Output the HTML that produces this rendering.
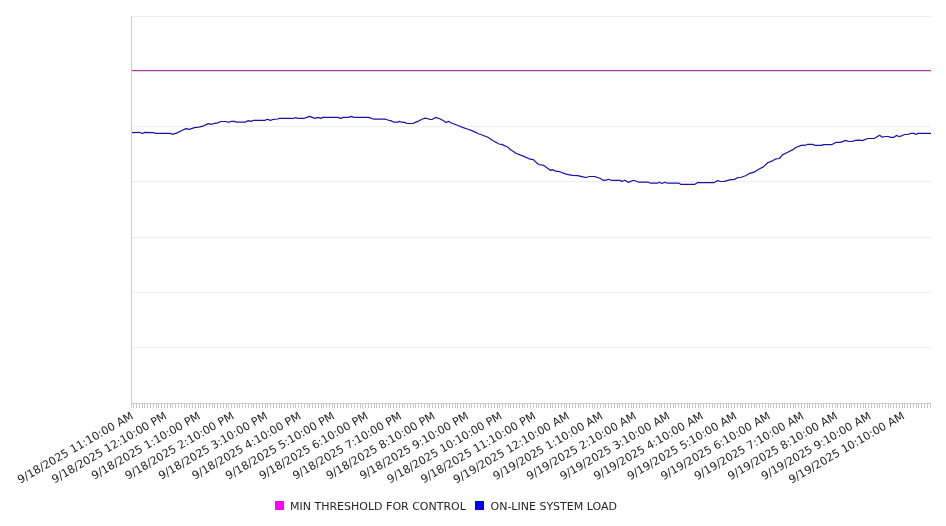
<!DOCTYPE html>
<html><head><meta charset="utf-8"><title>System Load Chart</title>
<style>
html,body{margin:0;padding:0;background:#fff;}
body{width:946px;height:526px;overflow:hidden;position:relative;}
svg{display:block;position:absolute;left:0;top:0;}
#txt{filter:grayscale(1);}
text{font-family:"DejaVu Sans","Liberation Sans",sans-serif;fill:#262626;}
</style></head>
<body>
<svg width="946" height="526" viewBox="0 0 946 526" shape-rendering="auto">
<rect width="946" height="526" fill="#fff"/>
<line x1="131" y1="16.5" x2="931" y2="16.5" stroke="#eeeeee" stroke-width="1"/>
<line x1="131" y1="71.5" x2="931" y2="71.5" stroke="#eeeeee" stroke-width="1"/>
<line x1="131" y1="126.5" x2="931" y2="126.5" stroke="#eeeeee" stroke-width="1"/>
<line x1="131" y1="181.5" x2="931" y2="181.5" stroke="#eeeeee" stroke-width="1"/>
<line x1="131" y1="237.5" x2="931" y2="237.5" stroke="#eeeeee" stroke-width="1"/>
<line x1="131" y1="292.5" x2="931" y2="292.5" stroke="#eeeeee" stroke-width="1"/>
<line x1="131" y1="347.5" x2="931" y2="347.5" stroke="#eeeeee" stroke-width="1"/>
<path d="M131.5 403 V408 M133.5 403 V408 M136.5 403 V408 M139.5 403 V408 M142.5 403 V408 M144.5 403 V408 M147.5 403 V408 M150.5 403 V408 M153.5 403 V408 M156.5 403 V408 M158.5 403 V408 M161.5 403 V408 M164.5 403 V408 M167.5 403 V408 M170.5 403 V408 M172.5 403 V408 M175.5 403 V408 M178.5 403 V408 M181.5 403 V408 M184.5 403 V408 M186.5 403 V408 M189.5 403 V408 M192.5 403 V408 M195.5 403 V408 M198.5 403 V408 M200.5 403 V408 M203.5 403 V408 M206.5 403 V408 M209.5 403 V408 M212.5 403 V408 M214.5 403 V408 M217.5 403 V408 M220.5 403 V408 M223.5 403 V408 M226.5 403 V408 M228.5 403 V408 M231.5 403 V408 M234.5 403 V408 M237.5 403 V408 M239.5 403 V408 M242.5 403 V408 M245.5 403 V408 M248.5 403 V408 M251.5 403 V408 M253.5 403 V408 M256.5 403 V408 M259.5 403 V408 M262.5 403 V408 M265.5 403 V408 M267.5 403 V408 M270.5 403 V408 M273.5 403 V408 M276.5 403 V408 M279.5 403 V408 M281.5 403 V408 M284.5 403 V408 M287.5 403 V408 M290.5 403 V408 M293.5 403 V408 M295.5 403 V408 M298.5 403 V408 M301.5 403 V408 M304.5 403 V408 M307.5 403 V408 M309.5 403 V408 M312.5 403 V408 M315.5 403 V408 M318.5 403 V408 M321.5 403 V408 M323.5 403 V408 M326.5 403 V408 M329.5 403 V408 M332.5 403 V408 M334.5 403 V408 M337.5 403 V408 M340.5 403 V408 M343.5 403 V408 M346.5 403 V408 M348.5 403 V408 M351.5 403 V408 M354.5 403 V408 M357.5 403 V408 M360.5 403 V408 M362.5 403 V408 M365.5 403 V408 M368.5 403 V408 M371.5 403 V408 M374.5 403 V408 M376.5 403 V408 M379.5 403 V408 M382.5 403 V408 M385.5 403 V408 M388.5 403 V408 M390.5 403 V408 M393.5 403 V408 M396.5 403 V408 M399.5 403 V408 M402.5 403 V408 M404.5 403 V408 M407.5 403 V408 M410.5 403 V408 M413.5 403 V408 M415.5 403 V408 M418.5 403 V408 M421.5 403 V408 M424.5 403 V408 M427.5 403 V408 M429.5 403 V408 M432.5 403 V408 M435.5 403 V408 M438.5 403 V408 M441.5 403 V408 M443.5 403 V408 M446.5 403 V408 M449.5 403 V408 M452.5 403 V408 M455.5 403 V408 M457.5 403 V408 M460.5 403 V408 M463.5 403 V408 M466.5 403 V408 M469.5 403 V408 M471.5 403 V408 M474.5 403 V408 M477.5 403 V408 M480.5 403 V408 M483.5 403 V408 M485.5 403 V408 M488.5 403 V408 M491.5 403 V408 M494.5 403 V408 M497.5 403 V408 M499.5 403 V408 M502.5 403 V408 M505.5 403 V408 M508.5 403 V408 M510.5 403 V408 M513.5 403 V408 M516.5 403 V408 M519.5 403 V408 M522.5 403 V408 M524.5 403 V408 M527.5 403 V408 M530.5 403 V408 M533.5 403 V408 M536.5 403 V408 M538.5 403 V408 M541.5 403 V408 M544.5 403 V408 M547.5 403 V408 M550.5 403 V408 M552.5 403 V408 M555.5 403 V408 M558.5 403 V408 M561.5 403 V408 M564.5 403 V408 M566.5 403 V408 M569.5 403 V408 M572.5 403 V408 M575.5 403 V408 M578.5 403 V408 M580.5 403 V408 M583.5 403 V408 M586.5 403 V408 M589.5 403 V408 M592.5 403 V408 M594.5 403 V408 M597.5 403 V408 M600.5 403 V408 M603.5 403 V408 M605.5 403 V408 M608.5 403 V408 M611.5 403 V408 M614.5 403 V408 M617.5 403 V408 M619.5 403 V408 M622.5 403 V408 M625.5 403 V408 M628.5 403 V408 M631.5 403 V408 M633.5 403 V408 M636.5 403 V408 M639.5 403 V408 M642.5 403 V408 M645.5 403 V408 M647.5 403 V408 M650.5 403 V408 M653.5 403 V408 M656.5 403 V408 M659.5 403 V408 M661.5 403 V408 M664.5 403 V408 M667.5 403 V408 M670.5 403 V408 M673.5 403 V408 M675.5 403 V408 M678.5 403 V408 M681.5 403 V408 M684.5 403 V408 M687.5 403 V408 M689.5 403 V408 M692.5 403 V408 M695.5 403 V408 M698.5 403 V408 M700.5 403 V408 M703.5 403 V408 M706.5 403 V408 M709.5 403 V408 M712.5 403 V408 M714.5 403 V408 M717.5 403 V408 M720.5 403 V408 M723.5 403 V408 M726.5 403 V408 M728.5 403 V408 M731.5 403 V408 M734.5 403 V408 M737.5 403 V408 M740.5 403 V408 M742.5 403 V408 M745.5 403 V408 M748.5 403 V408 M751.5 403 V408 M754.5 403 V408 M756.5 403 V408 M759.5 403 V408 M762.5 403 V408 M765.5 403 V408 M768.5 403 V408 M770.5 403 V408 M773.5 403 V408 M776.5 403 V408 M779.5 403 V408 M782.5 403 V408 M784.5 403 V408 M787.5 403 V408 M790.5 403 V408 M793.5 403 V408 M795.5 403 V408 M798.5 403 V408 M801.5 403 V408 M804.5 403 V408 M807.5 403 V408 M809.5 403 V408 M812.5 403 V408 M815.5 403 V408 M818.5 403 V408 M821.5 403 V408 M823.5 403 V408 M826.5 403 V408 M829.5 403 V408 M832.5 403 V408 M835.5 403 V408 M837.5 403 V408 M840.5 403 V408 M843.5 403 V408 M846.5 403 V408 M849.5 403 V408 M851.5 403 V408 M854.5 403 V408 M857.5 403 V408 M860.5 403 V408 M863.5 403 V408 M865.5 403 V408 M868.5 403 V408 M871.5 403 V408 M874.5 403 V408 M877.5 403 V408 M879.5 403 V408 M882.5 403 V408 M885.5 403 V408 M888.5 403 V408 M890.5 403 V408 M893.5 403 V408 M896.5 403 V408 M899.5 403 V408 M902.5 403 V408 M904.5 403 V408 M907.5 403 V408 M910.5 403 V408 M913.5 403 V408 M916.5 403 V408 M918.5 403 V408 M921.5 403 V408 M924.5 403 V408 M927.5 403 V408 M930.5 403 V408" stroke="#c8c8c8" stroke-width="1" fill="none"/>
<line x1="131" y1="70.5" x2="931" y2="70.5" stroke="#a63ca6" stroke-width="1"/>
<line x1="132" y1="71.5" x2="931" y2="71.5" stroke="#ffd0ff" stroke-width="1"/>
<path d="M131.0 132.6 L132.1 132.6 L139.5 132.3 L142.2 133.5 L144.8 132.4 L153.3 132.6 L155.9 133.3 L170.2 133.4 L172.3 134.3 L176.5 133.1 L181.8 130.5 L186.0 128.6 L189.2 129.4 L194.5 127.6 L198.7 127.1 L202.9 126.2 L208.2 123.6 L211.9 124.3 L214.6 123.4 L217.7 122.9 L220.9 121.5 L225.7 121.5 L228.8 122.3 L231.3 121.4 L234.5 121.4 L236.6 122.2 L245.1 122.2 L248.3 120.6 L250.9 121.4 L253.5 120.4 L265.2 120.3 L267.3 119.3 L270.5 120.4 L273.6 119.3 L277.9 119.0 L279.4 118.3 L293.7 118.3 L295.3 117.7 L297.9 118.3 L304.3 118.3 L309.6 116.4 L314.9 118.4 L318.0 117.4 L320.7 118.4 L323.2 117.4 L338.0 117.4 L340.6 118.4 L343.3 117.4 L348.5 117.4 L351.2 116.4 L353.8 117.4 L368.6 117.4 L373.9 119.2 L385.5 119.2 L388.7 120.3 L390.8 120.6 L394.0 122.2 L397.7 122.2 L399.3 121.4 L401.4 122.2 L404.6 122.4 L407.2 123.5 L413.0 123.5 L416.2 121.9 L418.7 121.1 L421.9 119.3 L424.5 118.2 L427.7 118.5 L429.8 119.5 L432.4 119.3 L435.6 117.4 L440.4 119.0 L443.5 120.8 L446.2 122.5 L448.8 121.4 L452.0 123.2 L457.3 125.3 L462.6 127.4 L467.9 129.2 L473.1 131.1 L477.9 133.5 L482.7 135.2 L487.9 137.3 L493.2 140.7 L499.0 144.0 L501.7 144.4 L508.0 147.2 L510.0 149.3 L516.3 153.5 L522.7 155.9 L530.1 159.2 L533.3 159.6 L538.5 164.5 L543.8 165.4 L550.7 170.4 L552.3 169.6 L555.5 171.2 L559.7 171.7 L566.0 174.1 L572.4 175.4 L577.7 175.7 L582.9 176.8 L586.1 177.5 L589.3 176.5 L594.6 176.5 L599.9 178.3 L603.6 180.4 L606.2 180.2 L608.2 179.2 L611.3 180.3 L619.8 180.3 L621.9 181.4 L625.1 180.3 L628.3 182.4 L633.5 180.3 L638.8 182.2 L648.3 182.2 L650.5 183.2 L657.3 183.2 L659.4 182.2 L662.1 183.5 L664.7 182.2 L667.4 183.2 L679.0 183.2 L680.6 184.3 L694.9 184.3 L698.0 182.4 L700.0 182.6 L714.3 182.6 L717.4 180.7 L720.6 181.5 L724.3 181.3 L730.7 179.6 L734.4 179.4 L738.1 177.5 L741.2 177.3 L745.5 175.7 L749.7 173.3 L753.9 172.2 L759.2 169.0 L763.4 166.9 L767.7 162.7 L772.9 160.6 L776.1 158.8 L779.3 158.5 L782.5 154.9 L786.7 152.8 L793.0 149.6 L796.2 147.2 L801.3 145.4 L805.6 145.2 L807.7 144.3 L812.4 144.3 L815.1 145.4 L821.4 145.4 L823.5 144.6 L832.0 144.6 L835.7 142.4 L840.5 142.4 L845.7 140.4 L848.9 141.5 L852.1 141.5 L855.3 140.4 L859.5 140.1 L862.1 140.6 L867.9 138.5 L874.3 138.5 L879.6 135.3 L882.4 137.3 L884.9 136.5 L888.4 136.5 L890.5 137.4 L893.6 137.4 L896.4 135.4 L898.8 136.5 L900.9 136.2 L904.4 134.5 L908.6 134.3 L910.7 133.3 L914.2 133.4 L915.9 134.5 L918.0 133.4 L931.0 133.4" stroke="#1414aa" stroke-width="1.2" fill="none" stroke-linejoin="round"/>
<line x1="131.5" y1="16" x2="131.5" y2="408" stroke="#cccccc" stroke-width="1"/>
<line x1="131" y1="403.5" x2="931" y2="403.5" stroke="#cccccc" stroke-width="1"/>
<rect x="275" y="501" width="9" height="9" fill="#ff00ff"/>
<rect x="475" y="501" width="9" height="9" fill="#0000ee"/>
</svg>
<svg id="txt" width="946" height="526" viewBox="0 0 946 526">
<text x="134.13" y="418.1" transform="rotate(-30 134.13 418.1)" text-anchor="end" font-size="11.15">9/18/2025 11:10:00 AM</text>
<text x="167.66" y="418.1" transform="rotate(-30 167.66 418.1)" text-anchor="end" font-size="11.15">9/18/2025 12:10:00 PM</text>
<text x="201.19" y="418.1" transform="rotate(-30 201.19 418.1)" text-anchor="end" font-size="11.15">9/18/2025 1:10:00 PM</text>
<text x="234.71" y="418.1" transform="rotate(-30 234.71 418.1)" text-anchor="end" font-size="11.15">9/18/2025 2:10:00 PM</text>
<text x="268.24" y="418.1" transform="rotate(-30 268.24 418.1)" text-anchor="end" font-size="11.15">9/18/2025 3:10:00 PM</text>
<text x="301.77" y="418.1" transform="rotate(-30 301.77 418.1)" text-anchor="end" font-size="11.15">9/18/2025 4:10:00 PM</text>
<text x="335.30" y="418.1" transform="rotate(-30 335.30 418.1)" text-anchor="end" font-size="11.15">9/18/2025 5:10:00 PM</text>
<text x="368.83" y="418.1" transform="rotate(-30 368.83 418.1)" text-anchor="end" font-size="11.15">9/18/2025 6:10:00 PM</text>
<text x="402.35" y="418.1" transform="rotate(-30 402.35 418.1)" text-anchor="end" font-size="11.15">9/18/2025 7:10:00 PM</text>
<text x="435.88" y="418.1" transform="rotate(-30 435.88 418.1)" text-anchor="end" font-size="11.15">9/18/2025 8:10:00 PM</text>
<text x="469.41" y="418.1" transform="rotate(-30 469.41 418.1)" text-anchor="end" font-size="11.15">9/18/2025 9:10:00 PM</text>
<text x="502.94" y="418.1" transform="rotate(-30 502.94 418.1)" text-anchor="end" font-size="11.15">9/18/2025 10:10:00 PM</text>
<text x="536.47" y="418.1" transform="rotate(-30 536.47 418.1)" text-anchor="end" font-size="11.15">9/18/2025 11:10:00 PM</text>
<text x="569.99" y="418.1" transform="rotate(-30 569.99 418.1)" text-anchor="end" font-size="11.15">9/19/2025 12:10:00 AM</text>
<text x="603.52" y="418.1" transform="rotate(-30 603.52 418.1)" text-anchor="end" font-size="11.15">9/19/2025 1:10:00 AM</text>
<text x="637.05" y="418.1" transform="rotate(-30 637.05 418.1)" text-anchor="end" font-size="11.15">9/19/2025 2:10:00 AM</text>
<text x="670.58" y="418.1" transform="rotate(-30 670.58 418.1)" text-anchor="end" font-size="11.15">9/19/2025 3:10:00 AM</text>
<text x="704.11" y="418.1" transform="rotate(-30 704.11 418.1)" text-anchor="end" font-size="11.15">9/19/2025 4:10:00 AM</text>
<text x="737.63" y="418.1" transform="rotate(-30 737.63 418.1)" text-anchor="end" font-size="11.15">9/19/2025 5:10:00 AM</text>
<text x="771.16" y="418.1" transform="rotate(-30 771.16 418.1)" text-anchor="end" font-size="11.15">9/19/2025 6:10:00 AM</text>
<text x="804.69" y="418.1" transform="rotate(-30 804.69 418.1)" text-anchor="end" font-size="11.15">9/19/2025 7:10:00 AM</text>
<text x="838.22" y="418.1" transform="rotate(-30 838.22 418.1)" text-anchor="end" font-size="11.15">9/19/2025 8:10:00 AM</text>
<text x="871.75" y="418.1" transform="rotate(-30 871.75 418.1)" text-anchor="end" font-size="11.15">9/19/2025 9:10:00 AM</text>
<text x="905.27" y="418.1" transform="rotate(-30 905.27 418.1)" text-anchor="end" font-size="11.15">9/19/2025 10:10:00 AM</text>
<text x="290" y="510" font-size="11">MIN THRESHOLD FOR CONTROL</text>
<text x="490.5" y="510" font-size="11">ON-LINE SYSTEM LOAD</text>
</svg>
</body></html>
